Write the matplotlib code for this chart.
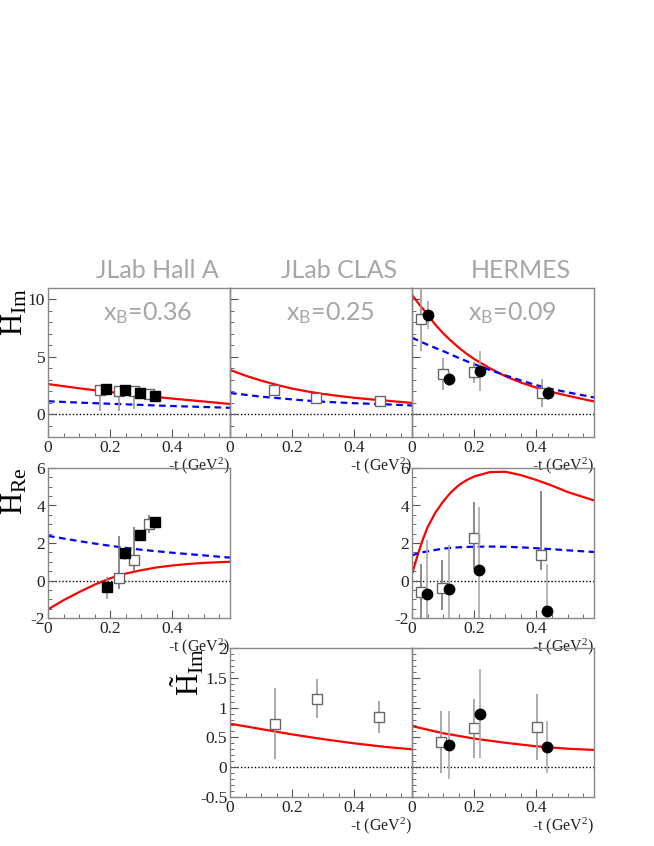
import matplotlib
matplotlib.use('Agg')
import matplotlib.pyplot as plt
from matplotlib.ticker import MultipleLocator

plt.rcParams['font.family'] = 'serif'
plt.rcParams['font.serif'] = ['Liberation Serif', 'DejaVu Serif']
plt.rcParams['mathtext.fontset'] = 'custom'
plt.rcParams['mathtext.rm'] = 'Liberation Serif'
plt.rcParams['mathtext.it'] = 'Liberation Serif:italic'
plt.rcParams['mathtext.sf'] = 'Lato'

# experiments / kinematics
titles = ['JLab Hall A', 'JLab CLAS', 'HERMES']
xb_labels = ['0.36', '0.25', '0.09']

# ---- H_Im ----
# Hall A
halla_open_t = [0.166, 0.227, 0.276, 0.326]
halla_open_v = [2.13, 2.0, 2.0, 1.78]
halla_open_lo = [1.83, 1.77, 1.56, 0.1]
halla_open_hi = [0.1, 0.1, 0.1, 0.1]
halla_full_t = [0.187, 0.247, 0.296, 0.345]
halla_full_v = [2.19, 2.08, 1.87, 1.55]
# CLAS
clas_open_t = [0.142, 0.278, 0.482]
clas_open_v = [2.07, 1.4, 1.1]
clas_open_e = [0.3, 0.3, 0.3]
# HERMES
herm_open_t = [0.030, 0.0995, 0.200, 0.417]
herm_open_v = [8.3, 3.48, 3.65, 1.84]
herm_open_e = [2.8, 1.4, 0.9, 1.2]
herm_full_t = [0.050, 0.120, 0.219, 0.436]
herm_full_v = [8.63, 3.07, 3.77, 1.84]
herm_full_e = [1.25, 0.6, 1.75, 0.65]

t_std = [0, 0.1, 0.2, 0.3, 0.4, 0.5, 0.585]
halla_im_red = [2.62, 2.25, 1.92, 1.62, 1.35, 1.1, 0.88]
halla_im_blue = [1.12, 1.0, 0.9, 0.8, 0.7, 0.62, 0.55]

t_fine = [0, 0.05, 0.1, 0.15, 0.2, 0.25, 0.3, 0.35, 0.4, 0.45, 0.5, 0.585]
clas_im_red = [3.85, 3.35, 2.92, 2.55, 2.22, 1.97, 1.75, 1.58, 1.42, 1.29, 1.18, 0.97]
clas_im_blue = [1.84, 1.68, 1.52, 1.4, 1.28, 1.17, 1.08, 1.01, 0.95, 0.9, 0.85, 0.75]

t_herm = [0, 0.025, 0.05, 0.075, 0.1, 0.125, 0.15, 0.175, 0.2, 0.25, 0.3, 0.35,
          0.4, 0.45, 0.5, 0.585]
herm_im_red = [10.4, 9.5, 8.7, 7.8, 7.05, 6.4, 5.8, 5.27, 4.8, 4.0, 3.3, 2.75,
               2.3, 1.92, 1.6, 1.1]
herm_im_blue = [6.67, 6.35, 6.05, 5.77, 5.5, 5.2, 4.9, 4.62, 4.35, 3.85, 3.38, 2.93,
                2.52, 2.18, 1.9, 1.45]

# ---- H_Re ----
halla_re_full_t = [0.189, 0.247, 0.296, 0.345]
halla_re_full_v = [-0.34, 1.45, 2.43, 3.13]
halla_re_full_lo = [0.62, 0.36, 0.1, 0.1]
halla_re_full_hi = [0.54, 0.26, 0.1, 0.1]
halla_re_open_t = [0.227, 0.276, 0.326]
halla_re_open_v = [0.16, 1.12, 3.02]
halla_re_open_lo = [0.59, 0.6, 0.5]
halla_re_open_hi = [2.21, 1.72, 0.48]
halla_re_red = [-1.54, -1.05, -0.62, -0.22, 0.12, 0.37, 0.55, 0.7, 0.8, 0.88, 0.94, 1.0]
halla_re_blue = [2.38, 2.24, 2.1, 1.97, 1.85, 1.74, 1.64, 1.56, 1.48, 1.41, 1.34, 1.22]

herm_re_open_t = [0.028, 0.097, 0.198, 0.415]
herm_re_open_v = [-0.61, -0.39, 2.27, 1.38]
herm_re_open_lo = [1.5, 1.16, 1.67, 0.83]
herm_re_open_hi = [1.5, 1.48, 1.91, 3.37]
herm_re_full_t = [0.049, 0.119, 0.215, 0.434]
herm_re_full_v = [-0.7, -0.46, 0.57, -1.62]
herm_re_full_e = [2.86, 2.37, 3.33, 2.5]
t_re = [0, 0.01, 0.02, 0.035, 0.05, 0.075, 0.1, 0.125, 0.15, 0.175, 0.2, 0.25, 0.3,
        0.35, 0.4, 0.45, 0.5, 0.585]
herm_re_red = [0.34, 0.91, 1.45, 2.2, 2.84, 3.62, 4.21, 4.7, 5.08, 5.35, 5.55, 5.78, 5.8,
               5.62, 5.36, 5.06, 4.72, 4.27]
herm_re_blue = [1.32, 1.4, 1.46, 1.51, 1.55, 1.63, 1.7, 1.74, 1.77, 1.79, 1.8, 1.81, 1.8,
                1.77, 1.72, 1.67, 1.61, 1.52]

# ---- H~_Im ----
clas_ht_t = [0.144, 0.28, 0.48]
clas_ht_v = [0.73, 1.15, 0.84]
clas_ht_e = [0.6, 0.33, 0.27]
clas_ht_red = [0.73, 0.64, 0.55, 0.47, 0.4, 0.34, 0.3]
herm_ht_open_t = [0.092, 0.198, 0.403]
herm_ht_open_v = [0.43, 0.65, 0.67]
herm_ht_open_e = [0.52, 0.5, 0.55]
herm_ht_full_t = [0.118, 0.217, 0.434]
herm_ht_full_v = [0.38, 0.9, 0.34]
herm_ht_full_e = [0.57, 0.74, 0.44]
herm_ht_red = [0.69, 0.57, 0.48, 0.41, 0.35, 0.31, 0.29]

W, H = 654, 846
fig = plt.figure(figsize=(W / 100, H / 100), dpi=100)

def mkax(x0, y0, x1, y1):
    ax = fig.add_axes([x0 / W, 1 - y1 / H, (x1 - x0) / W, (y1 - y0) / H])
    ax.set_facecolor('none')
    return ax

def style(ax, ylim, ymaj, ymin, ylabels=True, xlabel=True):
    ax.set_xlim(0, 0.585)
    ax.set_ylim(*ylim)
    ax.xaxis.set_major_locator(MultipleLocator(0.2))
    ax.xaxis.set_minor_locator(MultipleLocator(0.05))
    ax.yaxis.set_major_locator(MultipleLocator(ymaj))
    ax.yaxis.set_minor_locator(MultipleLocator(ymin))
    ax.xaxis.set_major_formatter(lambda v, p: '%g' % round(v, 2))
    ax.yaxis.set_major_formatter(lambda v, p: '%g' % round(v, 2))
    ax.tick_params(which='both', direction='in', top=False, right=False,
                   colors='#555555', labelcolor='#222222', labelsize=12.5, pad=2)
    ax.tick_params(which='major', length=6)
    ax.tick_params(which='minor', length=3)
    if not ylabels:
        ax.tick_params(axis='y', labelleft=False)
    for s in ax.spines.values():
        s.set_color('#888888')
        s.set_linewidth(1.0)
    ax.axhline(0, color='black', ls=(0, (1, 1.5)), lw=1.0, zorder=1)
    if xlabel:
        ax.text(1.0, -0.125, r'-t (GeV$^2$)', transform=ax.transAxes,
                ha='right', va='top', fontsize=11.5, color='#222222')

def curves(ax, t, red, blue=None):
    ax.plot(t, red, color='red', lw=1.6, zorder=2)
    if blue is not None:
        ax.plot(t, blue, color='blue', lw=1.6, ls=(0, (3, 2)), zorder=2)

def open_pts(ax, t, v, err, ecol='#999999'):
    ax.errorbar(t, v, yerr=err, fmt='s', mfc='white', mec='#666666', mew=1.0,
                ms=7.5, ecolor=ecol, elinewidth=1.2, capsize=0, zorder=3)

def full_pts(ax, t, v, err, marker='o', ecol='#aaaaaa'):
    ax.errorbar(t, v, yerr=err, fmt=marker, mfc='black', mec='black',
                ms=7.5, ecolor=ecol, elinewidth=1.2, capsize=0, zorder=4)

xs = [48, 230, 412, 594]
top = (288, 437)
mid = (468, 618)
bot = (648, 797)

# top row H_Im
axs = [mkax(xs[i], top[0], xs[i + 1], top[1]) for i in range(3)]
for i, ax in enumerate(axs):
    style(ax, (-2, 11), 5, 1, ylabels=(i == 0))
    fig.text((xs[i] + xs[i + 1]) / 2 / W + 0.028, 1 - 270 / H, titles[i],
             family='Lato', color='#a6a6a6', fontsize=18,
             ha='center', va='center')
    ax.text(0.55, 0.83, r'x$_{\mathsf{B}}$=' + xb_labels[i], transform=ax.transAxes,
            family='Lato', color='#a6a6a6', fontsize=18,
            ha='center', va='center')

curves(axs[0], t_std, halla_im_red, halla_im_blue)
open_pts(axs[0], halla_open_t, halla_open_v, [halla_open_lo, halla_open_hi])
full_pts(axs[0], halla_full_t, halla_full_v, None, marker='s')
curves(axs[1], t_fine, clas_im_red, clas_im_blue)
open_pts(axs[1], clas_open_t, clas_open_v, clas_open_e)
curves(axs[2], t_herm, herm_im_red, herm_im_blue)
open_pts(axs[2], herm_open_t, herm_open_v, herm_open_e)
full_pts(axs[2], herm_full_t, herm_full_v, herm_full_e)

axs[0].set_ylabel(r'$\mathrm{H}_{\mathrm{Im}}$', fontsize=22, loc='top')
axs[0].yaxis.set_label_coords(-0.1, 1.0)

# middle row H_Re
axr0 = mkax(xs[0], mid[0], xs[1], mid[1])
axr2 = mkax(xs[2], mid[0], xs[3], mid[1])
style(axr0, (-2, 6), 2, 0.5)
style(axr2, (-2, 6), 2, 0.5)
curves(axr0, t_fine, halla_re_red, halla_re_blue)
open_pts(axr0, halla_re_open_t, halla_re_open_v, [halla_re_open_lo, halla_re_open_hi],
         ecol='#777777')
full_pts(axr0, halla_re_full_t, halla_re_full_v, [halla_re_full_lo, halla_re_full_hi],
         marker='s', ecol='#999999')
axr0.set_ylabel(r'$\mathrm{H}_{\mathrm{Re}}$', fontsize=22, loc='top')
axr0.yaxis.set_label_coords(-0.1, 1.0)
curves(axr2, t_re, herm_re_red, herm_re_blue)
open_pts(axr2, herm_re_open_t, herm_re_open_v, [herm_re_open_lo, herm_re_open_hi],
         ecol='#777777')
full_pts(axr2, herm_re_full_t, herm_re_full_v, herm_re_full_e)

# bottom row H~_Im
axb1 = mkax(xs[1], bot[0], xs[2], bot[1])
axb2 = mkax(xs[2], bot[0], xs[3], bot[1])
style(axb1, (-0.5, 2), 0.5, 0.1)
style(axb2, (-0.5, 2), 0.5, 0.1, ylabels=False)
curves(axb1, t_std, clas_ht_red)
open_pts(axb1, clas_ht_t, clas_ht_v, clas_ht_e)
curves(axb2, t_std, herm_ht_red)
open_pts(axb2, herm_ht_open_t, herm_ht_open_v, herm_ht_open_e)
full_pts(axb2, herm_ht_full_t, herm_ht_full_v, herm_ht_full_e)
axb1.set_ylabel(r'$\tilde{\mathrm{H}}_{\mathrm{Im}}$', fontsize=22, loc='top')
axb1.yaxis.set_label_coords(-0.13, 1.0)

fig.savefig('out.png', dpi=100)
